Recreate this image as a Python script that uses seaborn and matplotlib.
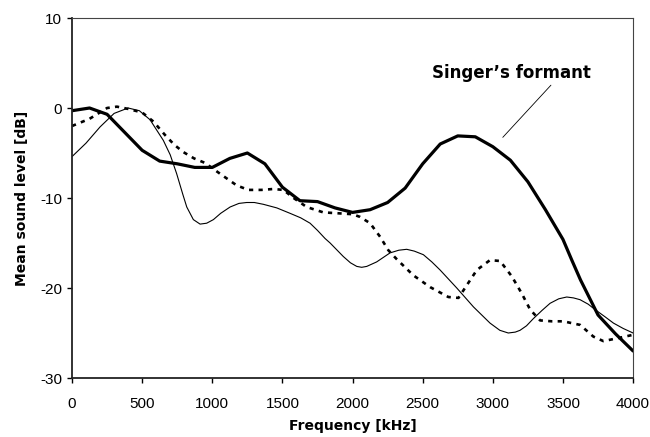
import matplotlib
matplotlib.use("Agg")
import matplotlib.pyplot as plt
import seaborn as sns
import pandas as pd

# Thin solid series
thin_x = [0, 100, 200, 300, 400, 480, 556, 651, 700, 746, 790, 818, 865, 913, 960,
          1008, 1060, 1127, 1190, 1245, 1300, 1364, 1460, 1554, 1630, 1697, 1750,
          1804, 1840, 1934, 1985, 2030, 2065, 2101, 2172, 2267, 2330, 2386, 2440,
          2505, 2565, 2624, 2743, 2862, 2980, 3050, 3110, 3160, 3194, 3240, 3289,
          3350, 3408, 3470, 3527, 3575, 3622, 3680, 3729, 3800, 3860, 3930, 4000]
thin_y = [-5.4, -3.9, -2.1, -0.6, 0.0, -0.3, -1.3, -3.6, -5.2, -7.3, -9.6, -11.0,
          -12.4, -12.9, -12.8, -12.4, -11.7, -11.0, -10.6, -10.5, -10.5, -10.7,
          -11.1, -11.7, -12.2, -12.8, -13.6, -14.5, -15.0, -16.5, -17.2, -17.6,
          -17.7, -17.6, -17.1, -16.1, -15.8, -15.7, -15.9, -16.3, -17.1, -18.0,
          -20.0, -22.1, -23.9, -24.7, -25.0, -24.9, -24.7, -24.2, -23.4, -22.5,
          -21.7, -21.2, -21.0, -21.1, -21.3, -21.8, -22.4, -23.2, -23.9, -24.5,
          -25.0]

# Thick solid series (singer)
thick_x = [0, 125, 250, 375, 500, 625, 750, 875, 1000, 1125, 1250, 1375, 1500,
           1625, 1750, 1875, 2000, 2125, 2250, 2375, 2500, 2625, 2750, 2875, 3000,
           3125, 3250, 3375, 3500, 3563, 3625, 3750, 3875, 4000]
thick_y = [-0.3, 0.0, -0.7, -2.7, -4.7, -5.9, -6.2, -6.6, -6.6, -5.6, -5.0, -6.2,
           -8.8, -10.3, -10.4, -11.1, -11.6, -11.3, -10.5, -8.9, -6.2, -4.0, -3.1,
           -3.2, -4.3, -5.8, -8.2, -11.3, -14.6, -16.9, -19.1, -23.0, -25.1, -27.0]

# Dotted series
dot_x = [0, 125, 250, 320, 400, 500, 580, 663, 730, 794, 870, 948, 1055, 1174,
         1257, 1350, 1435, 1507, 1580, 1673, 1792, 1900, 2000, 2053, 2125, 2196,
         2255, 2315, 2434, 2553, 2683, 2755, 2814, 2886, 2980, 3052, 3135, 3206,
         3266, 3337, 3420, 3502, 3622, 3717, 3788, 3883, 4000]
dot_y = [-2.0, -1.2, 0.0, 0.15, -0.1, -0.5, -1.5, -3.0, -4.1, -4.9, -5.6, -6.1,
         -7.3, -8.6, -9.1, -9.1, -9.0, -9.1, -10.0, -11.0, -11.6, -11.7, -11.8,
         -12.1, -12.8, -14.3, -15.8, -16.8, -18.6, -19.9, -21.0, -21.1, -19.7,
         -18.0, -16.9, -17.0, -18.7, -20.6, -22.4, -23.6, -23.7, -23.7, -24.1,
         -25.4, -25.9, -25.6, -25.2]

x_ticks = [0, 500, 1000, 1500, 2000, 2500, 3000, 3500, 4000]
y_ticks = [-30, -20, -10, 0, 10]

sns.set_style("ticks")
plt.rcParams['font.family'] = ['Liberation Sans', 'DejaVu Sans']
plt.rcParams['text.color'] = 'black'
plt.rcParams['axes.labelcolor'] = 'black'

fig, ax = plt.subplots(figsize=(6.5, 4.37), dpi=100)
fig.subplots_adjust(left=0.1108, right=0.974, top=0.9588, bottom=0.135)

df_thin = pd.DataFrame({"f": thin_x, "L": thin_y})
df_thick = pd.DataFrame({"f": thick_x, "L": thick_y})
df_dot = pd.DataFrame({"f": dot_x, "L": dot_y})

sns.lineplot(data=df_thin, x="f", y="L", ax=ax, color="black", lw=0.8,
             sort=False, estimator=None)
sns.lineplot(data=df_dot, x="f", y="L", ax=ax, color="black", lw=1.9,
             sort=False, estimator=None, linestyle=(0, (1.6, 2.0)))
sns.lineplot(data=df_thick, x="f", y="L", ax=ax, color="black", lw=2.3,
             sort=False, estimator=None)

ax.set_xlim(0, 4000)
ax.set_ylim(-30, 10)
ax.set_xticks(x_ticks)
ax.set_yticks(y_ticks)
ax.set_xticklabels([str(v) for v in x_ticks], fontsize=11)
ax.set_yticklabels([str(v) for v in y_ticks], fontsize=11)
ax.tick_params(direction="out", length=3.6, width=1, colors="black")
ax.tick_params(axis="x", pad=10)
ax.tick_params(axis="y", pad=3.6)

ax.set_xlabel("Frequency [kHz]", fontsize=10, fontweight="bold",
              family="DejaVu Sans", labelpad=6)
ax.set_ylabel("Mean sound level [dB]", fontsize=10, fontweight="bold",
              family="DejaVu Sans", labelpad=8)

for s in ["left", "bottom"]:
    ax.spines[s].set_linewidth(1.3)
    ax.spines[s].set_color("#222222")
for s in ["top", "right"]:
    ax.spines[s].set_visible(True)
    ax.spines[s].set_linewidth(0.8)
    ax.spines[s].set_color("#444444")

ax.annotate("Singer\u2019s formant", xy=(3071, -3.26), xytext=(3130, 3.9),
            ha="center", va="center", fontsize=12, fontweight="bold",
            family="DejaVu Sans", color="black",
            arrowprops=dict(arrowstyle="-", color="black", lw=0.6,
                            shrinkA=0, shrinkB=0,
                            relpos=(0.77, 0.0)))

fig.savefig("out.png", dpi=100)
